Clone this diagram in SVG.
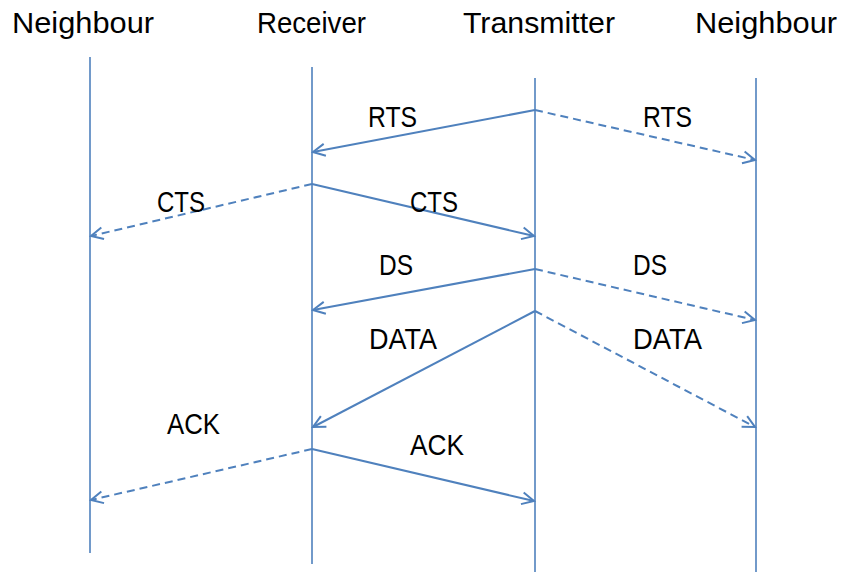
<svg xmlns="http://www.w3.org/2000/svg" width="842" height="572" viewBox="0 0 842 572">
  <style>
    .life { stroke: #4F81BD; stroke-width: 1.6; fill: none; }
    .msg { stroke: #4F81BD; stroke-width: 2; fill: none; marker-end: url(#arrow); }
    .dash { stroke-dasharray: 8 5; }
    text { font-family: "Liberation Sans", Arial, sans-serif; font-size: 30px; fill: #000; }
  </style>
  <defs>
    <marker id="arrow" markerUnits="userSpaceOnUse" markerWidth="16" markerHeight="16" viewBox="0 0 16 16" refX="14" refY="8" orient="auto">
      <path d="M2,2 L14,8 L2,14" fill="none" stroke="#4F81BD" stroke-width="2"/>
    </marker>
  </defs>
  <rect width="842" height="572" fill="#fff"/>

  <!-- participants with their lifelines -->
  <g id="neighbour-left">
    <text x="12" y="33" textLength="142" lengthAdjust="spacingAndGlyphs">Neighbour</text>
    <line class="life" x1="90" y1="57" x2="90" y2="553"/>
  </g>
  <g id="receiver">
    <text x="257" y="33" textLength="109" lengthAdjust="spacingAndGlyphs">Receiver</text>
    <line class="life" x1="312" y1="67" x2="312" y2="564"/>
  </g>
  <g id="transmitter">
    <text x="463" y="33" textLength="152" lengthAdjust="spacingAndGlyphs">Transmitter</text>
    <line class="life" x1="535" y1="78" x2="535" y2="572"/>
  </g>
  <g id="neighbour-right">
    <text x="695" y="33" textLength="142" lengthAdjust="spacingAndGlyphs">Neighbour</text>
    <line class="life" x1="756" y1="78" x2="756" y2="572"/>
  </g>

  <!-- messages -->
  <g id="connectors">
    <line class="msg" x1="535" y1="110" x2="313" y2="152"/>
    <line class="msg dash" x1="535" y1="110" x2="755" y2="160"/>
    <line class="msg" x1="312" y1="184" x2="534" y2="236"/>
    <line class="msg dash" x1="312" y1="184" x2="91" y2="236"/>
    <line class="msg" x1="535" y1="269" x2="313" y2="310"/>
    <line class="msg dash" x1="535" y1="269" x2="755" y2="320"/>
    <line class="msg" x1="535" y1="311" x2="313" y2="427"/>
    <line class="msg dash" x1="535" y1="311" x2="755" y2="427"/>
    <line class="msg" x1="312" y1="449" x2="534" y2="501"/>
    <line class="msg dash" x1="312" y1="449" x2="91" y2="500"/>
  </g>

  <!-- message labels -->
  <g id="labels">
    <text x="368" y="127" textLength="49" lengthAdjust="spacingAndGlyphs">RTS</text>
    <text x="643" y="127" textLength="49" lengthAdjust="spacingAndGlyphs">RTS</text>
    <text x="157" y="212" textLength="48" lengthAdjust="spacingAndGlyphs">CTS</text>
    <text x="410" y="212" textLength="48" lengthAdjust="spacingAndGlyphs">CTS</text>
    <text x="379" y="275" textLength="34" lengthAdjust="spacingAndGlyphs">DS</text>
    <text x="633" y="275" textLength="34" lengthAdjust="spacingAndGlyphs">DS</text>
    <text x="369" y="349" textLength="68" lengthAdjust="spacingAndGlyphs">DATA</text>
    <text x="633" y="349" textLength="69" lengthAdjust="spacingAndGlyphs">DATA</text>
    <text x="167" y="434" textLength="53" lengthAdjust="spacingAndGlyphs">ACK</text>
    <text x="410" y="455" textLength="54" lengthAdjust="spacingAndGlyphs">ACK</text>
  </g>
</svg>
